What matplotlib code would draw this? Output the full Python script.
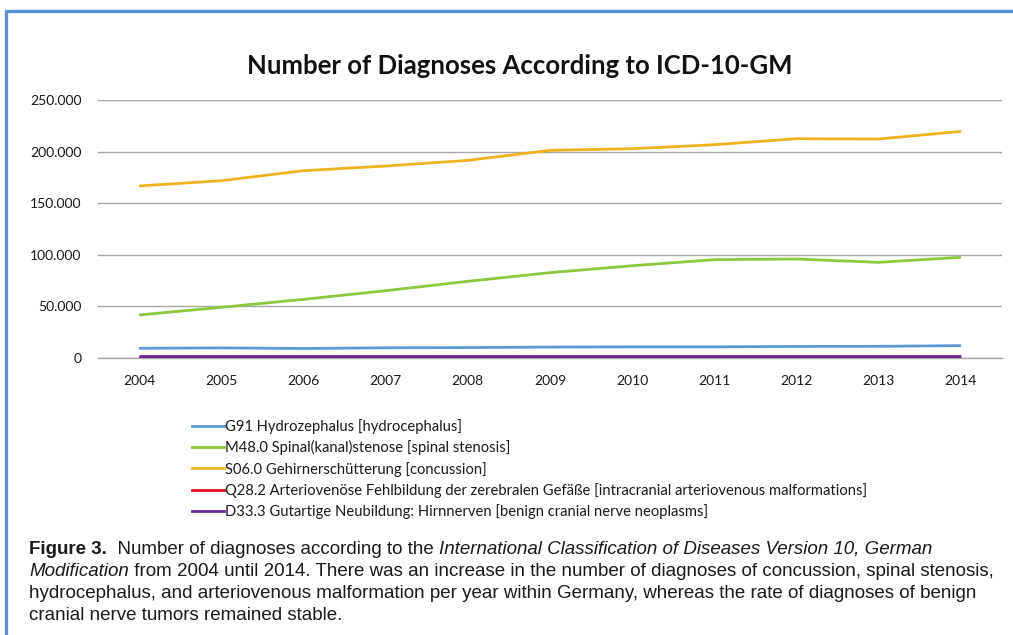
import matplotlib
matplotlib.use("Agg")
import matplotlib.pyplot as plt
from matplotlib.lines import Line2D
from matplotlib.ticker import FuncFormatter

years = [2004, 2005, 2006, 2007, 2008, 2009, 2010, 2011, 2012, 2013, 2014]

hydrocephalus = [9400, 9800, 9200, 9900, 10100, 10600, 10800, 10800, 11200, 11300, 12000]
spinal_stenosis = [41700, 49100, 56800, 65200, 74300, 82700, 89400, 95300, 95900, 92700, 97600]
concussion = [166700, 171800, 181500, 186000, 191500, 201200, 202800, 206700, 212500, 212200, 219600]
avm = [300, 320, 340, 360, 380, 400, 420, 440, 460, 480, 500]
cranial_nerve = [2200, 2200, 2200, 2200, 2200, 2200, 2200, 2200, 2200, 2200, 2200]

series_labels = [
    "G91 Hydrozephalus [hydrocephalus]",
    "M48.0 Spinal(kanal)stenose [spinal stenosis]",
    "S06.0 Gehirnerschütterung [concussion]",
    "Q28.2 Arteriovenöse Fehlbildung der zerebralen Gefäße [intracranial arteriovenous malformations]",
    "D33.3 Gutartige Neubildung: Hirnnerven [benign cranial nerve neoplasms]",
]
series_colors = ["#5B9BD5", "#8DC63F", "#EDB31E", "#E0141E", "#6A2A9A"]
series_widths = [2.0, 2.0, 2.0, 2.0, 2.0]

y_ticks = [0, 50000, 100000, 150000, 200000, 250000]

title = "Number of Diagnoses According to ICD-10-GM"

W, H = 1013, 635
fig = plt.figure(figsize=(W / 100, H / 100), dpi=100)
fig.patch.set_facecolor("white")

chart_font = ["Lato", "DejaVu Sans"]
caption_font = ["Liberation Sans", "DejaVu Sans"]

# blue frame: top and left rules
frame_color = "#5B90D1"
fig.add_artist(Line2D([6 / W, 6 / W], [0, 1 - 10 / H], color=frame_color, lw=2.4,
                      transform=fig.transFigure, solid_capstyle="butt"))
fig.add_artist(Line2D([5 / W, 1], [1 - 11 / H, 1 - 11 / H], color=frame_color, lw=2.4,
                      transform=fig.transFigure, solid_capstyle="butt"))

left, right = 98 / W, 1002 / W
bottom, top = (H - 358) / H, (H - 100) / H
ax = fig.add_axes([left, bottom, right - left, top - bottom])

series = [hydrocephalus, spinal_stenosis, concussion, avm, cranial_nerve]
zorders = [3, 3, 3, 3, 4]
for vals, lab, col, lw, z in zip(series, series_labels, series_colors, series_widths, zorders):
    ax.plot(years, vals, color=col, lw=lw, label=lab, solid_capstyle="butt", zorder=z)

ax.set_xlim(2003.5, 2014.5)
ax.set_ylim(0, 250000)
ax.set_xticks(years)
ax.set_xticklabels([str(y) for y in years])
ax.set_yticks(y_ticks)
ax.yaxis.set_major_formatter(FuncFormatter(lambda v, p: "0" if v == 0 else f"{int(v):,}".replace(",", ".")))
ax.grid(axis="y", color="#A6A6A6", lw=1.0, zorder=0)
for s in ["top", "right", "left"]:
    ax.spines[s].set_visible(False)
ax.spines["bottom"].set_color("#A6A6A6")
ax.spines["bottom"].set_linewidth(1.0)
ax.spines["bottom"].set_zorder(2)
ax.tick_params(axis="both", length=0, labelsize=10.0, colors="#1a1a1a")
ax.tick_params(axis="x", pad=12)
ax.tick_params(axis="y", pad=12)
for lbl in ax.get_xticklabels() + ax.get_yticklabels():
    lbl.set_fontfamily(chart_font)
ax.set_facecolor("none")

fig.text(520 / W, 1 - 66 / H, title, ha="center", va="center", fontsize=18.5,
         fontweight="bold", family=chart_font, color="#111111")

# legend below the plot
handles = [Line2D([], [], color=c, lw=lw) for c, lw in zip(series_colors, series_widths)]
leg = fig.legend(handles, series_labels, loc="upper left",
                 bbox_to_anchor=(192 / W, 1 - 419 / H), frameon=False,
                 prop={"family": chart_font, "size": 10.6}, handlelength=2.2,
                 handletextpad=0.05, labelspacing=0.43, borderaxespad=0, borderpad=0)
for t in leg.get_texts():
    t.set_color("#1a1a1a")

# caption with mixed bold / italic runs
caption_lines = [
    [("Figure 3.", "bold", "normal"), ("  Number of diagnoses according to the ", "normal", "normal"),
     ("International Classification of Diseases Version 10, German", "normal", "italic")],
    [("Modification", "normal", "italic"),
     (" from 2004 until 2014. There was an increase in the number of diagnoses of concussion, spinal stenosis,", "normal", "normal")],
    [("hydrocephalus, and arteriovenous malformation per year within Germany, whereas the rate of diagnoses of benign", "normal", "normal")],
    [("cranial nerve tumors remained stable.", "normal", "normal")],
]
fig.canvas.draw()
renderer = fig.canvas.get_renderer()
cap_x0 = 29
cap_y0 = 549
line_step = 22.3
cap_size = 13.5
for i, runs in enumerate(caption_lines):
    x = cap_x0
    y = cap_y0 + i * line_step
    for text, weight, style in runs:
        t = fig.text(x / W, 1 - y / H, text, ha="left", va="center", fontsize=cap_size,
                     fontweight=weight, fontstyle=style, family=caption_font, color="#1a1a1a")
        bb = t.get_window_extent(renderer=renderer)
        x += bb.width

fig.savefig("out.png", dpi=100, facecolor="white")
